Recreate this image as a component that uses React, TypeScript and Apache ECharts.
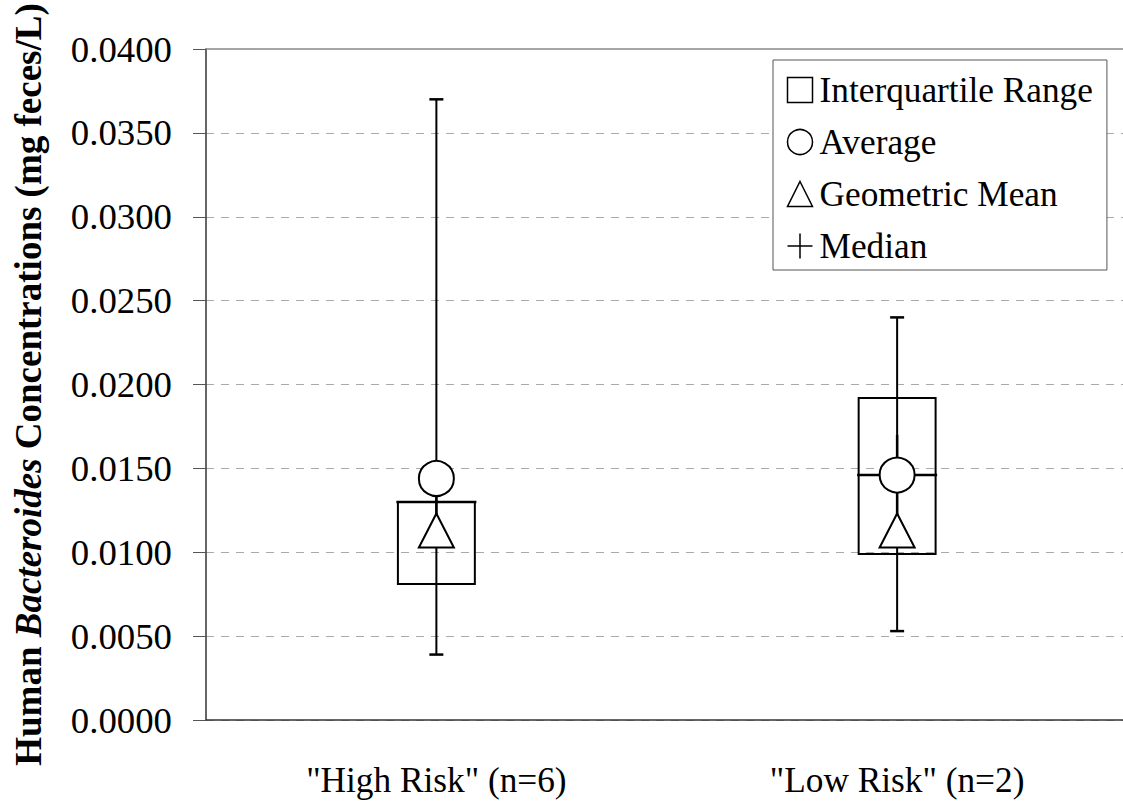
import React, { useEffect, useRef } from "react";
import * as echarts from "echarts";

const categories = ['"High Risk" (n=6)', '"Low Risk" (n=2)'];
const minValues = [0.0039, 0.0053];
const q1Values = [0.0081, 0.0099];
const medianValues = [0.013, 0.0146];
const q3Values = [0.013, 0.0192];
const maxValues = [0.037, 0.024];
const averageValues = [0.0144, 0.0146];
const geoMeanValues = [0.0113, 0.0113];
const legendNames = ["Interquartile Range", "Average", "Geometric Mean", "Median"];

const FONT = "'Liberation Serif', 'Times New Roman', Times, serif";
const PLUS = "path://M0,40H80M40,0V80";

export default function App() {
  const ref = useRef<HTMLDivElement>(null);

  useEffect(() => {
    if (!ref.current) return;
    const chart = echarts.init(ref.current, undefined, { renderer: "svg" });

    const boxData = categories.map((_, i) => [i, minValues[i], q1Values[i], q3Values[i], maxValues[i]]);

    const option: any = {
      animation: false,
      backgroundColor: "#fff",
      grid: { left: 206, right: -4.5, top: 49, bottom: 83, containLabel: false, outerBoundsMode: "none" },
      legend: {
        orient: "vertical",
        left: 773,
        top: 60,
        padding: [10, 14, 4, 12],
        itemGap: 12,
        itemWidth: 25,
        itemHeight: 25,
        backgroundColor: "#fff",
        borderColor: "#555",
        borderWidth: 1,
        selectedMode: false,
        textStyle: { fontFamily: FONT, fontSize: 35.3, color: "#000", lineHeight: 40, padding: [0, 0, 0, 2] },
        data: [
          { name: legendNames[0], icon: "rect", itemStyle: { color: "#fff", borderColor: "#000", borderWidth: 1.5 } },
          { name: legendNames[1], icon: "circle", itemStyle: { color: "#fff", borderColor: "#000", borderWidth: 1.5 } },
          { name: legendNames[2], icon: "triangle", itemStyle: { color: "#fff", borderColor: "#000", borderWidth: 1.5 } },
          { name: legendNames[3], icon: PLUS, itemStyle: { color: "none", borderColor: "#000", borderWidth: 1.5 } },
        ],
      },
      xAxis: [
        {
          type: "category",
          data: categories,
          boundaryGap: true,
          axisLine: { show: true, lineStyle: { color: "#333", width: 1.5 } },
          axisTick: { show: false },
          axisLabel: { fontFamily: FONT, fontSize: 35.3, color: "#000", lineHeight: 40, margin: 40, interval: 0 },
          splitLine: { show: false },
        },
        {
          type: "category",
          data: categories,
          position: "top",
          boundaryGap: true,
          axisLine: { show: true, lineStyle: { color: "#888", width: 1.5 } },
          axisTick: { show: false },
          axisLabel: { show: false },
          splitLine: { show: false },
        },
      ],
      yAxis: {
        type: "value",
        min: 0,
        max: 0.04,
        interval: 0.005,
        name: "Human {i|Bacteroides} Concentrations (mg feces/L)",
        nameLocation: "middle",
        nameGap: 156,
        nameRotate: 90,
        nameTextStyle: {
          fontFamily: FONT,
          fontSize: 37,
          fontWeight: "bold",
          color: "#000",
          lineHeight: 43,
          rich: {
            i: { fontFamily: FONT, fontSize: 37, fontWeight: "bold", fontStyle: "italic", color: "#000", lineHeight: 43 },
          },
        },
        axisLine: { show: true, lineStyle: { color: "#333", width: 1.5 } },
        axisTick: { show: true, length: 13, lineStyle: { color: "#555", width: 1 } },
        axisLabel: {
          fontFamily: FONT,
          fontSize: 36.8,
          color: "#000",
          margin: 34,
          padding: [6, 0, 0, 0],
          formatter: (v: number) => v.toFixed(4),
        },
        splitLine: {
          show: true,
          showMaxLine: false,
          lineStyle: { color: "#aaa", width: 1, type: [8, 7] },
        },
      },
      series: [
        {
          name: legendNames[0],
          type: "custom",
          data: boxData,
          encode: { x: 0, y: [1, 2, 3, 4] },
          renderItem: (params: any, api: any) => {
            const idx = api.value(0);
            const pMin = api.coord([idx, api.value(1)]);
            const pQ1 = api.coord([idx, api.value(2)]);
            const pQ3 = api.coord([idx, api.value(3)]);
            const pMax = api.coord([idx, api.value(4)]);
            const band = api.size([1, 0])[0];
            const bw = band * 0.167;
            const cx = pMin[0];
            const capW = 7;
            return {
              type: "group",
              children: [
                {
                  type: "line",
                  shape: { x1: cx, y1: pMax[1], x2: cx, y2: pMin[1] },
                  style: { stroke: "#000", lineWidth: 2 },
                },
                {
                  type: "line",
                  shape: { x1: cx - capW, y1: pMax[1], x2: cx + capW, y2: pMax[1] },
                  style: { stroke: "#000", lineWidth: 2.5 },
                },
                {
                  type: "line",
                  shape: { x1: cx - capW, y1: pMin[1], x2: cx + capW, y2: pMin[1] },
                  style: { stroke: "#000", lineWidth: 2.5 },
                },
                {
                  type: "rect",
                  shape: { x: cx - bw / 2, y: pQ3[1], width: bw, height: pQ1[1] - pQ3[1] },
                  style: { fill: "none", stroke: "#000", lineWidth: 2 },
                },
              ],
            };
          },
        },
        {
          name: legendNames[3],
          type: "scatter",
          data: categories.map((_, i) => [i, medianValues[i]]),
          symbol: PLUS,
          symbolSize: 80,
          itemStyle: { color: "none", borderColor: "#000", borderWidth: 2.5, opacity: 1 },
        },
        {
          name: legendNames[2],
          type: "scatter",
          data: categories.map((_, i) => [i, geoMeanValues[i]]),
          symbol: "triangle",
          symbolSize: [35, 34],
          itemStyle: { color: "#fff", borderColor: "#000", borderWidth: 2, opacity: 1 },
        },
        {
          name: legendNames[1],
          type: "scatter",
          data: categories.map((_, i) => [i, averageValues[i]]),
          symbol: "circle",
          symbolSize: 35,
          itemStyle: { color: "#fff", borderColor: "#000", borderWidth: 2, opacity: 1 },
        },
      ],
    };

    chart.setOption(option);
    return () => chart.dispose();
  }, []);

  return (
    <div
      ref={ref}
      style={{ position: "absolute", left: 0, top: 0, width: 1123, height: 803 }}
    />
  );
}
